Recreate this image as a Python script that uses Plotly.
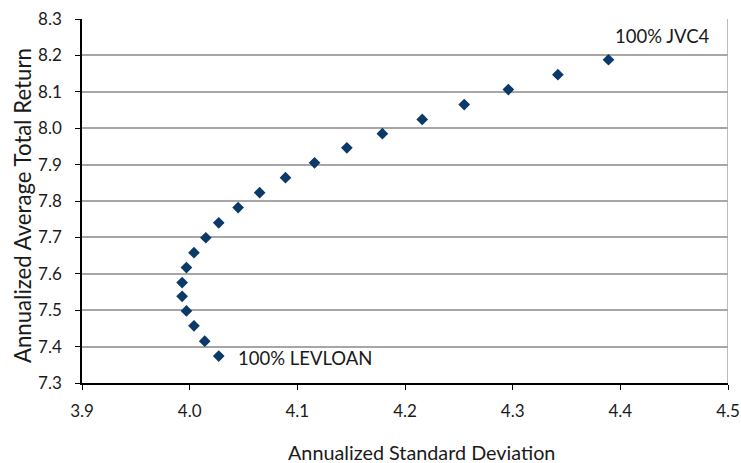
import plotly.graph_objects as go

std_dev = [4.027, 4.014, 4.004, 3.997, 3.993, 3.993, 3.997, 4.004, 4.015, 4.027, 4.045,
           4.065, 4.089, 4.116, 4.146, 4.179, 4.216, 4.255, 4.296, 4.342, 4.389]
total_return = [7.374, 7.415, 7.457, 7.498, 7.538, 7.576, 7.617, 7.658, 7.699, 7.740, 7.782,
                7.823, 7.864, 7.905, 7.946, 7.985, 8.024, 8.065, 8.106, 8.147, 8.188]
x_ticks = [3.9, 4.0, 4.1, 4.2, 4.3, 4.4, 4.5]
y_ticks = [7.3, 7.4, 7.5, 7.6, 7.7, 7.8, 7.9, 8.0, 8.1, 8.2, 8.3]
label_low = "100% LEVLOAN"
label_high = "100% JVC4"
x_title = "Annualized Standard Deviation"
y_title = "Annualized Average Total Return"

FONT = "Lato, 'Open Sans', sans-serif"
fig = go.Figure()
fig.add_trace(go.Scatter(
    x=std_dev, y=total_return, mode="markers",
    marker=dict(symbol="diamond", size=9, color="#0B3A68"),
    showlegend=False, hoverinfo="x+y"))

fig.add_annotation(x=std_dev[0], y=total_return[0], text=label_low, showarrow=False,
                   xanchor="left", yanchor="middle", xshift=17, yshift=-2,
                   font=dict(size=18.5, color="#1a1a1a"))
fig.add_annotation(x=std_dev[-1], y=total_return[-1], text=label_high, showarrow=False,
                   xanchor="left", yanchor="middle", xshift=5, yshift=24,
                   font=dict(size=18.5, color="#1a1a1a"))

# axis titles
fig.add_annotation(xref="paper", yref="paper", x=0.5255, y=-0.19, text=x_title,
                   showarrow=False, xanchor="center", yanchor="middle",
                   font=dict(size=19.8, color="#1a1a1a"))
fig.add_annotation(xref="paper", yref="paper", x=-0.0929, y=0.489, text=y_title,
                   showarrow=False, xanchor="center", yanchor="middle", textangle=-90,
                   font=dict(size=22.2, color="#1a1a1a"))

fig.add_shape(type="line", xref="x", yref="paper", x0=4.5, x1=4.5, y0=0, y1=1,
              line=dict(color="#A6A6A6", width=1.5))

fig.update_layout(
    width=741, height=463,
    margin=dict(l=82, r=13, t=19, b=80),
    paper_bgcolor="white", plot_bgcolor="white",
    font=dict(family=FONT, size=17, color="#1a1a1a"),
    xaxis=dict(range=[3.9, 4.5], tickvals=x_ticks, ticktext=[f"{v:.1f}" for v in x_ticks],
               showgrid=False, zeroline=False, showline=True, linecolor="black", linewidth=1.5,
               ticks="outside", ticklen=5, tickcolor="black", automargin=False,
               ticklabelstandoff=7),
    yaxis=dict(range=[7.3, 8.3], tickvals=y_ticks, ticktext=[f"{v:.1f}" for v in y_ticks],
               showgrid=True, gridcolor="#A6A6A6", gridwidth=1.5, zeroline=False,
               showline=True, linecolor="black", linewidth=1.5,
               ticks="outside", ticklen=5, tickcolor="black", automargin=False,
               ticklabelstandoff=10),
)
fig.write_html("out.html", config={"displayModeBar": False},
               post_script="document.body.style.margin='0';document.body.style.overflow='hidden';")
